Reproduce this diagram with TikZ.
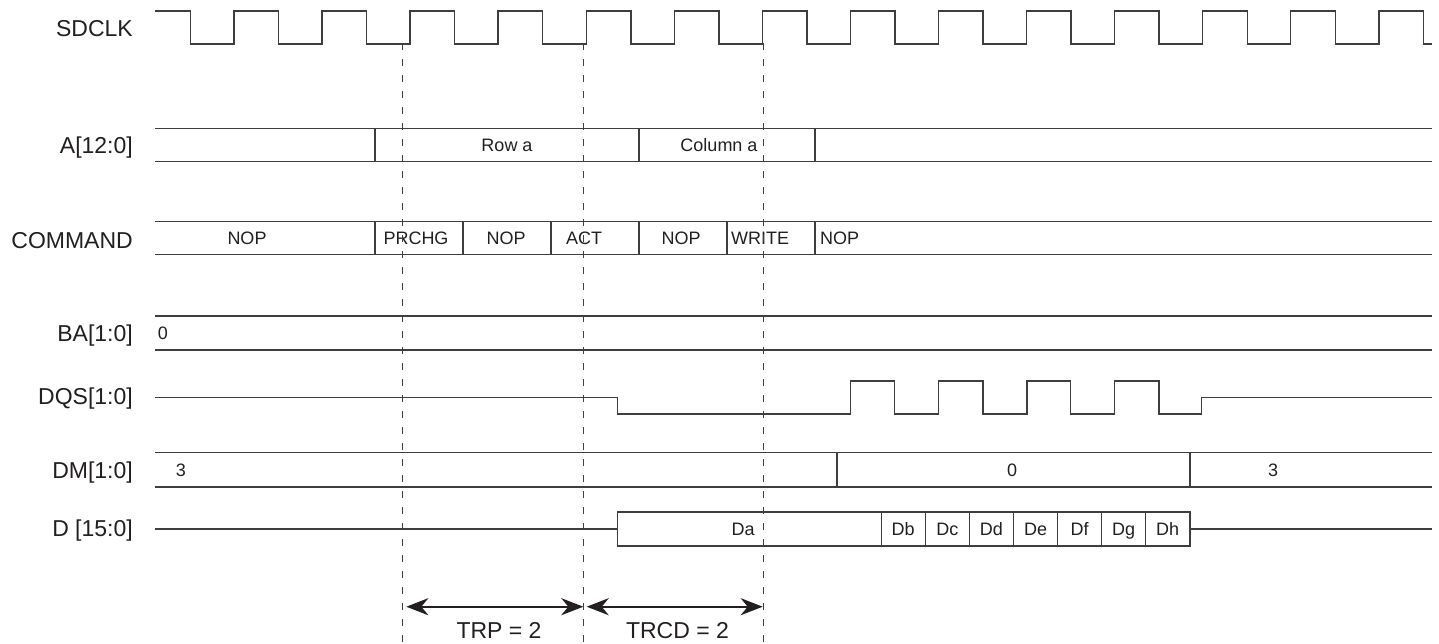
\documentclass[tikz,border=0pt]{standalone}
\usepackage{fontspec}
\setmainfont{Liberation Sans}
\usetikzlibrary{arrows.meta}
\definecolor{sig}{RGB}{62,62,62}
\definecolor{txt}{RGB}{35,31,32}
\begin{document}
\begin{tikzpicture}[x=1pt,y=-1pt,
  wave/.style={draw=sig,line width=1.4pt,line join=miter},
  lbl/.style={anchor=base east,font=\fontsize{23}{23}\selectfont,text=txt,inner sep=0pt},
  val/.style={anchor=base,font=\fontsize{18}{18}\selectfont,text=txt,inner sep=0pt},
  guide/.style={draw=sig,line width=1.2pt,dash pattern=on 7pt off 9pt},
  span/.style={draw=txt,line width=2.2pt,{Stealth[length=22pt,width=17pt,inset=7pt]}-{Stealth[length=22pt,width=17pt,inset=7pt]}},
  spantxt/.style={anchor=base,font=\fontsize{23}{23}\selectfont,text=txt,inner sep=0pt}]
\useasboundingbox (0,0) rectangle (1439,643);

% ---- labels
\node[lbl] (lclk) at (133,36.5) {SDCLK};
\node[lbl] (la)   at (133,153.5) {A[12:0]};
\node[lbl] (lcmd) at (133,248) {COMMAND};
\node[lbl] (lba)  at (133,341.5) {BA[1:0]};
\node[lbl] (ldqs) at (133,404) {DQS[1:0]};
\node[lbl] (ldm)  at (133,478) {DM[1:0]};
\node[lbl] (ld)   at (133,536.5) {D [15:0]};

% ---- clock
\draw[wave] (155,11)
  foreach \k in {0,...,13} {
    -- ({190.5+88.06*\k},11) -- ({190.5+88.06*\k},44)
    -- ({234+88.06*\k},44) -- ({234+88.06*\k},11) }
  -- (1423.3,11) -- (1423.3,44) -- (1431.7,44);

% ---- A[12:0]
\draw[wave] (155,128.3) -- (1431.7,128.3);
\draw[wave] (155,161.7) -- (1431.7,161.7);
\foreach \x in {375,639,815} \draw[wave] (\x,128.3) -- (\x,161.7);
\node[val] (arow) at (507,151.5) {Row a};
\node[val] (acol) at (719,151.5) {Column a};

% ---- COMMAND
\draw[wave] (155,221.7) -- (1431.7,221.7);
\draw[wave] (155,254.3) -- (1431.7,254.3);
\foreach \x in {375,463,551,639,727,815} \draw[wave] (\x,221.7) -- (\x,254.3);
\node[val] (c1) at (247,244.5) {NOP};
\node[val] (c2) at (416,244.5) {PRCHG};
\node[val] (c3) at (506,244.5) {NOP};
\node[val] (c4) at (584,244.5) {ACT};
\node[val] (c5) at (681,244.5) {NOP};
\node[val] (c6) at (760,244.5) {WRITE};
\node[val,anchor=base west] (c7) at (820,244.5) {NOP};

% ---- BA[1:0]
\draw[wave] (155,316) -- (1431.7,316);
\draw[wave] (155,350) -- (1431.7,350);
\node[val] (ba0) at (163,339.5) {0};

% ---- DQS[1:0]
\draw[wave] (155,397.5) -- (617.5,397.5) -- (617.5,414) -- (850.5,414)
  -- (850.5,381) -- (894.3,381) -- (894.3,414) -- (938.4,414)
  -- (938.4,381) -- (982.9,381) -- (982.9,414) -- (1027,414)
  -- (1027,381) -- (1070.6,381) -- (1070.6,414) -- (1114.7,414)
  -- (1114.7,381) -- (1158.8,381) -- (1158.8,414) -- (1201.2,414)
  -- (1201.2,397.5) -- (1431.7,397.5);

% ---- DM[1:0]
\draw[wave] (155,452.5) -- (1431.7,452.5);
\draw[wave] (155,487) -- (1431.7,487);
\foreach \x in {837,1189.8} \draw[wave] (\x,452.5) -- (\x,487);
\node[val] (dm1) at (181,476.5) {3};
\node[val] (dm2) at (1012,476.5) {0};
\node[val] (dm3) at (1273,476.5) {3};

% ---- D [15:0]
\draw[wave] (155,529) -- (617.5,529);
\draw[wave] (617.5,512) rectangle (1189.8,546);
\draw[wave] (1189.8,529) -- (1431.7,529);
\foreach \x in {881.2,925.3,969.4,1013.5,1057.6,1101.6,1145.7} \draw[wave] (\x,512) -- (\x,546);
\node[val] (da) at (743,535.5) {Da};
\foreach \n/\x in {Db/903.2,Dc/947.3,Dd/991.4,De/1035.5,Df/1079.6,Dg/1123.6,Dh/1167.7}
  \node[val] (\n) at (\x,535.5) {\n};

% ---- guide lines
\coordinate (g1t) at (402.3,43.3);
\coordinate (g2t) at (583.5,43.3);
\coordinate (g3t) at (763.5,43.3);
\coordinate (g1b) at (402.3,643);
\coordinate (g2b) at (583.5,643);
\coordinate (g3b) at (763.5,643);
\draw[guide] (g1t) -- (g1b);
\draw[guide] (g2t) -- (g2b);
\draw[guide] (g3t) -- (g3b);

% ---- timing spans
\coordinate (s1) at (402.3,606.7);
\coordinate (s2) at (583.5,606.7);
\coordinate (s3) at (763.5,606.7);
\draw[span,shorten <=4pt,shorten >=0.2pt] (s1) -- (s2);
\draw[span,shorten <=3.2pt,shorten >=0.8pt] (s2) -- (s3);
\node[spantxt] (trp)  at (499,638.3) {TRP = 2};
\node[spantxt] (trcd) at (677.5,638.3) {TRCD = 2};
\end{tikzpicture}
\end{document}
